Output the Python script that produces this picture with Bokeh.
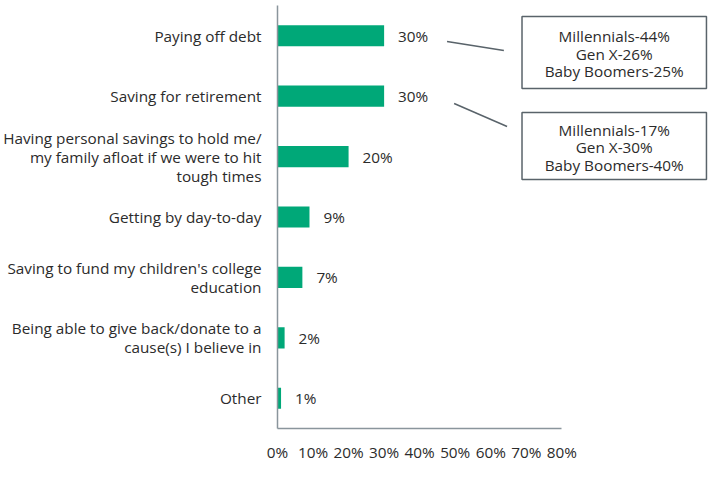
from bokeh.plotting import figure
from bokeh.models import Range1d, FixedTicker, ColumnDataSource, BoxAnnotation, Label
from bokeh.embed import file_html
from bokeh.resources import INLINE
from bokeh.core.properties import value

categories = [
    "Paying off debt",
    "Saving for retirement",
    "Having personal savings to hold me/\nmy family afloat if we were to hit\ntough times",
    "Getting by day-to-day",
    "Saving to fund my children's college\neducation",
    "Being able to give back/donate to a\ncause(s) I believe in",
    "Other",
]
shares = [30, 30, 20, 9, 7, 2, 1]
share_labels = ["30%", "30%", "20%", "9%", "7%", "2%", "1%"]
x_ticks = [0, 10, 20, 30, 40, 50, 60, 70, 80]
x_tick_labels = ["0%", "10%", "20%", "30%", "40%", "50%", "60%", "70%", "80%"]
callout_debt = "Millennials-44%\nGen X-26%\nBaby Boomers-25%"
callout_retire = "Millennials-17%\nGen X-30%\nBaby Boomers-40%"

FONT = "Open Sans"
FS = "15.3px"
TXT = "#2b2b2b"
GREEN = "#00A878"
AXIS = "#8a959c"
BOX = "#59636a"

n = len(categories)
ypos = [n - i - 0.5 for i in range(n)]

p = figure(width=712, height=490, output_backend="svg", toolbar_location=None,
           x_range=Range1d(0, 122.4), y_range=Range1d(0, 7),
           min_border_left=276, min_border_right=0, min_border_top=5, min_border_bottom=62)
p.outline_line_color = None
p.grid.visible = False

src = ColumnDataSource(dict(y=ypos, v=shares, lab=share_labels))
p.hbar(y="y", left=0, right="v", height=0.35, source=src, fill_color=GREEN, line_color=None)
p.text(x="v", y="y", text="lab", source=src, x_offset=14, text_baseline="middle",
       text_font=value(FONT), text_font_size=FS, text_color=TXT)

# y axis
p.yaxis.ticker = FixedTicker(ticks=ypos)
p.yaxis.major_label_overrides = {y: c for y, c in zip(ypos, categories)}
p.yaxis.major_tick_line_color = None
p.yaxis.minor_tick_line_color = None
p.yaxis.major_tick_out = 0
p.yaxis.major_tick_in = 0
p.yaxis.axis_line_color = AXIS
p.yaxis.axis_line_width = 1.5
p.yaxis.major_label_standoff = 16
p.yaxis.major_label_text_font = FONT
p.yaxis.major_label_text_font_size = FS
p.yaxis.major_label_text_color = TXT
p.yaxis.major_label_text_line_height = 0.95

# x axis
p.xaxis.ticker = FixedTicker(ticks=x_ticks)
p.xaxis.major_label_overrides = {t: l for t, l in zip(x_ticks, x_tick_labels)}
p.xaxis.bounds = (0, 80)
p.xaxis.major_tick_line_color = None
p.xaxis.minor_tick_line_color = None
p.xaxis.major_tick_out = 0
p.xaxis.major_tick_in = 0
p.xaxis.axis_line_color = AXIS
p.xaxis.axis_line_width = 1.5
p.xaxis.major_label_standoff = 13
p.xaxis.major_label_text_font = FONT
p.xaxis.major_label_text_font_size = FS
p.xaxis.major_label_text_color = TXT

# callout boxes
for top, bottom in [(6.818, 5.627), (5.229, 4.121)]:
    p.add_layout(BoxAnnotation(left=68.8, right=120.7, top=top, bottom=bottom,
                               fill_color="white", fill_alpha=1,
                               line_color=BOX, line_alpha=1, line_width=1.5))
seg = ColumnDataSource(dict(x0=[47.7, 49.7], y0=[6.404, 5.378], x1=[63.7, 64.6], y1=[6.255, 4.998]))
p.segment(x0="x0", y0="y0", x1="x1", y1="y1", source=seg, line_color=BOX, line_width=1.5)

for txt, yc in [(callout_debt, 6.2), (callout_retire, 4.65)]:
    p.add_layout(Label(x=94.75, y=yc, text=txt, text_align="center", text_baseline="middle",
                       text_font=FONT, text_font_size=FS, text_color=TXT,
                       text_line_height=0.87))

open("out.html", "w").write(file_html(p, INLINE))
